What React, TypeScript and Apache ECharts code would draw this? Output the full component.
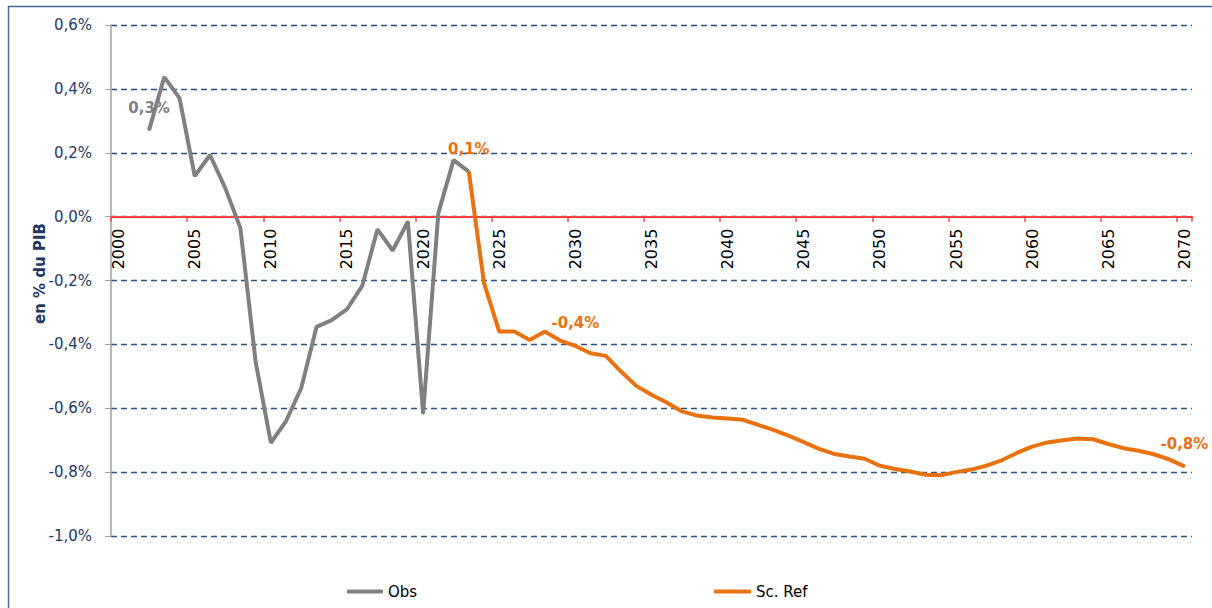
import React, { useEffect, useRef } from "react";
import * as echarts from "echarts";

const firstYear = 2000;
const lastYear = 2070;
const years: string[] = [];
for (let y = firstYear; y <= lastYear; y++) years.push(String(y));

const obsStart = 2002;
const obsValues = [
  0.271, 0.437, 0.371, 0.127, 0.193, 0.09, -0.036, -0.455, -0.708, -0.64,
  -0.536, -0.345, -0.324, -0.29, -0.217, -0.04, -0.106, -0.016, -0.617, 0.011,
  0.177, 0.141,
];

const refStart = 2023;
const refValues = [
  0.141, -0.208, -0.36, -0.36, -0.386, -0.36, -0.388, -0.405, -0.428, -0.436,
  -0.485, -0.53, -0.558, -0.582, -0.61, -0.623, -0.629, -0.632, -0.636, -0.652,
  -0.668, -0.686, -0.706, -0.727, -0.743, -0.751, -0.758, -0.78, -0.79, -0.798,
  -0.808, -0.81, -0.8, -0.792, -0.78, -0.763, -0.74, -0.72, -0.707, -0.7,
  -0.695, -0.697, -0.712, -0.725, -0.733, -0.744, -0.76, -0.782,
];

const obsLabelYears = [2002];
const refLabelYears = [2023, 2030, 2070];

const yMin = -1.0;
const yMax = 0.6;
const yStep = 0.2;

const GREY = "#808080";
const ORANGE = "#E8720F";
const NAVY = "#1F3864";
const FONT = "DejaVu Sans";

const GRID_TOP = 25;
const GRID_BOTTOM = 72;
const CHART_H = 608;

const fmt = (v: number) => {
  const r = Math.abs(v) < 1e-9 ? 0 : v;
  return r.toFixed(1).replace(".", ",") + "%";
};

function buildData(start: number, values: number[], labelYears: number[], color: string) {
  return years.map((ys) => {
    const y = Number(ys);
    const i = y - start;
    if (i < 0 || i >= values.length) return null;
    const v = values[i];
    if (labelYears.includes(y)) {
      return {
        value: v,
        label: {
          show: true,
          position: "top",
          distance: 14,
          formatter: () => fmt(v),
          color,
          fontWeight: "bold",
          fontSize: 15,
          fontFamily: FONT,
        },
      };
    }
    return v;
  });
}

export default function App() {
  const ref = useRef<HTMLDivElement>(null);
  useEffect(() => {
    if (!ref.current) return;
    const chart = echarts.init(ref.current, undefined, { renderer: "svg" });
    const gridH = CHART_H - GRID_TOP - GRID_BOTTOM;
    const zeroOffset = (gridH * (0 - yMin)) / (yMax - yMin);
    const option: any = {
      animation: false,
      backgroundColor: "#ffffff",
      textStyle: { fontFamily: FONT },
      grid: { left: 111, right: 20, top: GRID_TOP, bottom: GRID_BOTTOM, containLabel: false },
      graphic: [
        {
          type: "rect",
          shape: { x: 8.5, y: 6.5, width: 1400, height: 800 },
          style: { fill: "none", stroke: "#43679A", lineWidth: 1.5 },
          silent: true,
        },
      ],
      legend: [
        {
          left: 347,
          top: 584,
          padding: 0,
          data: ["Obs"],
          icon: "roundRect",
          itemWidth: 36,
          itemHeight: 4,
          textStyle: { fontFamily: FONT, fontSize: 15, color: "#000" },
        },
        {
          left: 714,
          top: 584,
          padding: 0,
          data: ["Sc. Ref"],
          icon: "roundRect",
          itemWidth: 37,
          itemHeight: 4,
          textStyle: { fontFamily: FONT, fontSize: 15, color: "#000" },
        },
      ],
      xAxis: {
        type: "category",
        data: years,
        boundaryGap: true,
        position: "bottom",
        offset: -zeroOffset,
        axisLine: { onZero: false, lineStyle: { color: "#FF4040", width: 2 } },
        axisTick: { show: true, interval: 4, length: 5, lineStyle: { color: "#FF4040", width: 1.5 } },
        axisLabel: {
          interval: 4,
          rotate: 90,
          color: "#000",
          fontFamily: FONT,
          fontSize: 16,
          margin: 12,
        },
        splitLine: { show: false },
      },
      yAxis: {
        type: "value",
        min: yMin,
        max: yMax,
        interval: yStep,
        name: "en % du PIB",
        nameLocation: "middle",
        nameGap: 64,
        nameMoveOverlap: false,
        nameTextStyle: { fontWeight: "bold", color: NAVY, fontSize: 15, fontFamily: FONT, padding: [0, 0, 0, 14] },
        axisLine: { show: true, lineStyle: { color: "#A0A0A0", width: 1.5 } },
        axisTick: { show: true, length: 6, lineStyle: { color: "#A0A0A0" } },
        axisLabel: { formatter: (v: number) => fmt(v), color: NAVY, fontSize: 15, fontFamily: FONT, margin: 19 },
        splitLine: { show: true, lineStyle: { type: [6, 4], color: "#2B4F81", width: 1.3 } },
      },
      series: [
        {
          name: "Obs",
          type: "line",
          data: buildData(obsStart, obsValues, obsLabelYears, GREY),
          symbol: "circle",
          symbolSize: 2,
          showSymbol: true,
          itemStyle: { color: GREY },
          lineStyle: { color: GREY, width: 4 },
          z: 3,
        },
        {
          name: "Sc. Ref",
          type: "line",
          data: buildData(refStart, refValues, refLabelYears, ORANGE),
          symbol: "circle",
          symbolSize: 2,
          showSymbol: true,
          itemStyle: { color: ORANGE },
          lineStyle: { color: ORANGE, width: 4 },
          z: 4,
        },
      ],
    };
    chart.setOption(option);
    return () => chart.dispose();
  }, []);
  return (
    <div
      ref={ref}
      style={{ position: "fixed", left: 0, top: 0, width: 1212, height: 608 }}
    />
  );
}
